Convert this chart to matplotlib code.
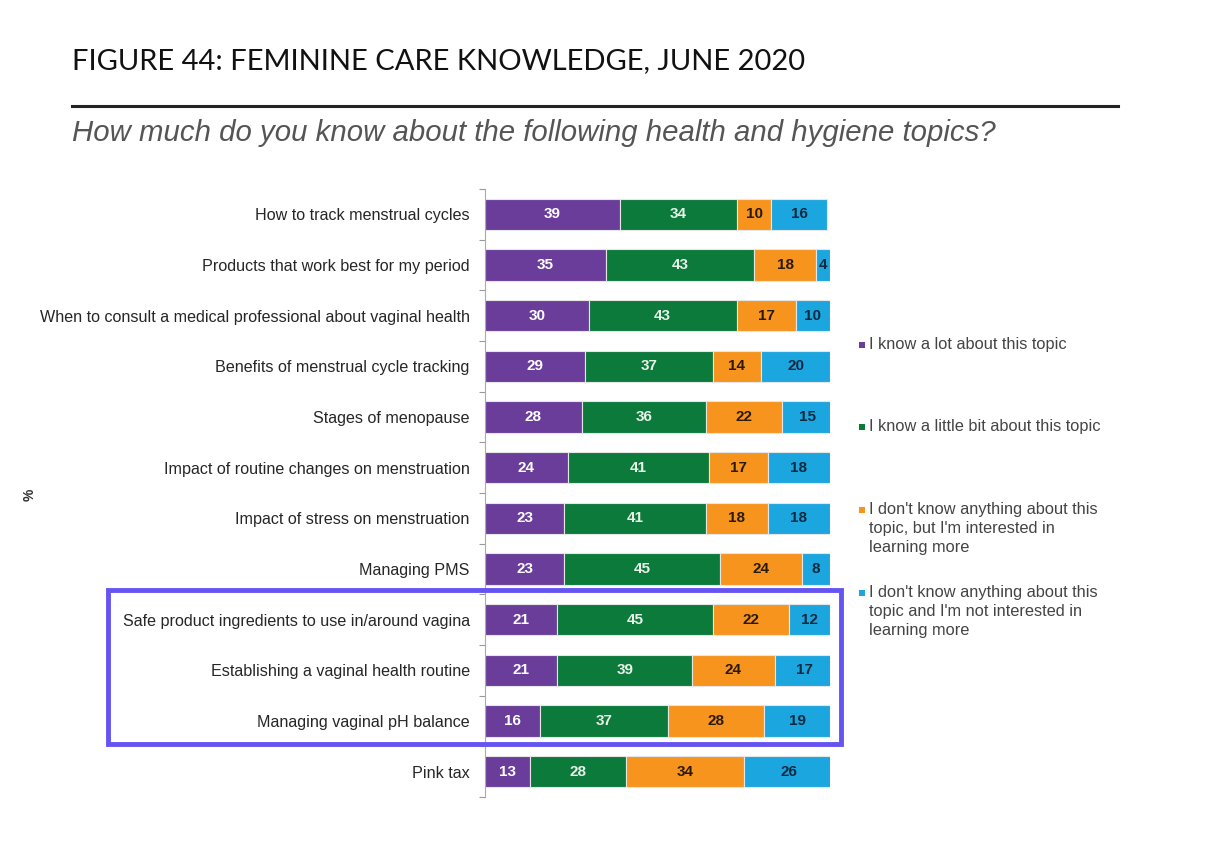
import matplotlib
matplotlib.use("Agg")
import matplotlib.pyplot as plt
from matplotlib.patches import Rectangle
from matplotlib.lines import Line2D
import numpy as np

categories = [
    "How to track menstrual cycles",
    "Products that work best for my period",
    "When to consult a medical professional about vaginal health",
    "Benefits of menstrual cycle tracking",
    "Stages of menopause",
    "Impact of routine changes on menstruation",
    "Impact of stress on menstruation",
    "Managing PMS",
    "Safe product ingredients to use in/around vagina",
    "Establishing a vaginal health routine",
    "Managing vaginal pH balance",
    "Pink tax",
]
know_a_lot = [39, 35, 30, 29, 28, 24, 23, 23, 21, 21, 16, 13]
know_a_little = [34, 43, 43, 37, 36, 41, 41, 45, 45, 39, 37, 28]
dont_know_interested = [10, 18, 17, 14, 22, 17, 18, 24, 22, 24, 28, 34]
dont_know_not_interested = [16, 4, 10, 20, 15, 18, 18, 8, 12, 17, 19, 26]

series_names = [
    "I know a lot about this topic",
    "I know a little bit about this topic",
    "I don't know anything about this\ntopic, but I'm interested in\nlearning more",
    "I don't know anything about this\ntopic and I'm not interested in\nlearning more",
]
series = [know_a_lot, know_a_little, dont_know_interested, dont_know_not_interested]
colors = ["#6a3d9a", "#0b7a3b", "#f7941d", "#1ca6e0"]
label_colors = ["white", "#e8f0e8", "#2a1a05", "#0d2a40"]

plt.rcParams["font.family"] = ["Liberation Sans", "DejaVu Sans"]

fig = plt.figure(figsize=(12.12, 8.52), dpi=100)
fig.patch.set_facecolor("white")

W, H = 1212, 852
ax = fig.add_axes([485 / W, 1 - 797 / H, 345 / W, 608 / H])

y = np.arange(len(categories))
left = np.zeros(len(categories))
for vals, col, lc in zip(series, colors, label_colors):
    vals = np.array(vals, dtype=float)
    ax.barh(y, vals, left=left, height=0.62, color=col,
            edgecolor="#e6e6e6", linewidth=0.8)
    for yi, l, v in zip(y, left, vals):
        ax.text(l + v / 2, yi, f"{int(v)}", ha="center", va="center",
                color=lc, fontsize=11, fontweight="bold")
    left += vals

ax.set_xlim(0, 100)
ax.set_ylim(len(categories) - 0.5, -0.5)
ax.set_yticks(y)
ax.set_yticklabels(categories, fontsize=11.6, color="#262626")
ax.tick_params(axis="y", which="major", length=0, pad=11)
ax.set_yticks(np.arange(-0.5, len(categories), 1.0), minor=True)
ax.tick_params(axis="y", which="minor", length=4, color="#999999", width=0.8)
ax.set_xticks([])
for s in ["top", "right", "bottom"]:
    ax.spines[s].set_visible(False)
ax.spines["left"].set_color("#aaaaaa")
ax.spines["left"].set_linewidth(0.8)

# Title and subtitle
fig.text(72 / W, 1 - 61 / H, "FIGURE 44: FEMININE CARE KNOWLEDGE, JUNE 2020",
         fontsize=21, family=["Lato", "DejaVu Sans"], color="#111111",
         ha="left", va="center")
fig.add_artist(Line2D([72 / W, 1118 / W], [1 - 106 / H, 1 - 106 / H],
                      color="#222222", linewidth=2.2, transform=fig.transFigure))
fig.text(72 / W, 1 - 133 / H,
         "How much do you know about the following health and hygiene topics?",
         fontsize=21.2, style="italic", color="#555555", ha="left", va="center")

# % axis label
fig.text(30 / W, 1 - 495 / H, "%", rotation=90, fontsize=10, color="#333333",
         ha="center", va="center", fontweight="bold")

# Legend
legend_y = [344, 426, 509, 592]
for name, col, ly in zip(series_names, colors, legend_y):
    fig.add_artist(Rectangle((859 / W, 1 - (ly + 4) / H), 6 / W, 6 / H,
                             facecolor=col, edgecolor="none",
                             transform=fig.transFigure))
    fig.text(869 / W, 1 - (ly - 7) / H, name, fontsize=11.8, color="#444444",
             ha="left", va="top", linespacing=1.32)

# Highlight box
fig.add_artist(Rectangle((108 / W, 1 - 744 / H), (841 - 108) / W, (744 - 590) / H,
                         facecolor="none", edgecolor="#6553f2", linewidth=3.5,
                         transform=fig.transFigure))

fig.savefig("out.png", dpi=100, facecolor="white")
